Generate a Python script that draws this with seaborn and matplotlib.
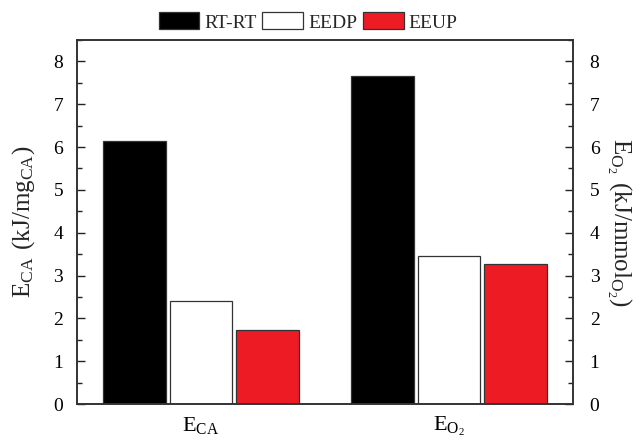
import matplotlib
matplotlib.use("Agg")
import matplotlib.pyplot as plt
import seaborn as sns
import pandas as pd
from matplotlib.ticker import MultipleLocator, FixedLocator
from matplotlib.patches import Patch

categories = [r"$\mathregular{E_{CA}}$", r"$\mathregular{E_{O_2}}$"]
methods = ["RT-RT", "EEDP", "EEUP"]
rtrt = [6.15, 7.67]
eedp = [2.40, 3.46]
eeup = [1.73, 3.28]
colors = ["#000000", "#FFFFFF", "#ED1C24"]

sns.set_theme(style="white")
plt.rcParams["font.family"] = ["Liberation Serif", "DejaVu Serif"]
plt.rcParams["mathtext.fontset"] = "custom"
plt.rcParams["mathtext.rm"] = "Liberation Serif"

rows = []
for m, vals in zip(methods, [rtrt, eedp, eeup]):
    for c, v in zip(categories, vals):
        rows.append({"cat": c, "method": m, "value": v})
df = pd.DataFrame(rows)

fig = plt.figure(figsize=(6.43, 4.40), dpi=100)
ax = fig.add_axes([77/643, 1-404/440, (573-77)/643, (404-40)/440])

sns.barplot(data=df, x="cat", y="value", hue="method", order=categories,
            hue_order=methods, palette=colors, saturation=1, width=0.8, gap=0.05,
            edgecolor="#333333", linewidth=0.9, ax=ax, legend=False)

ax.set_xlim(-0.5, 1.5)
ax.set_ylim(0, 8.5)
ax.set_xlabel("")
ax.set_ylabel(r"$\mathregular{E_{CA}\ (kJ/mg_{CA})}$", fontsize=18, labelpad=12)
ax.yaxis.set_major_locator(MultipleLocator(1))
ax.yaxis.set_minor_locator(MultipleLocator(0.5))
ax.xaxis.set_minor_locator(FixedLocator([0.5]))
ax.tick_params(axis="both", which="both", direction="in", colors="#222222")
ax.tick_params(axis="y", which="major", length=6, width=1, labelsize=14, pad=10, labelcolor="black")
ax.tick_params(axis="y", which="minor", length=3.5, width=1)
ax.tick_params(axis="x", which="major", length=6, width=1, labelsize=16, pad=8, labelcolor="black")
ax.tick_params(axis="x", which="minor", length=3.5, width=1)
for s in ax.spines.values():
    s.set_color("#333333")
    s.set_linewidth(1.2)

ax2 = ax.twinx()
ax2.set_ylim(0, 8.5)
ax2.yaxis.set_major_locator(MultipleLocator(1))
ax2.yaxis.set_minor_locator(MultipleLocator(0.5))
ax2.tick_params(axis="y", which="both", direction="in", colors="#222222")
ax2.tick_params(axis="y", which="major", length=6, width=1, labelsize=14, pad=12, labelcolor="black")
ax2.tick_params(axis="y", which="minor", length=3.5, width=1)
ax2.set_ylabel(r"$\mathregular{E_{O_2}\ (kJ/mmol_{O_2})}$", fontsize=18, rotation=270, labelpad=24)
for s in ax2.spines.values():
    s.set_color("#333333")
    s.set_linewidth(1.2)

handles = [Patch(facecolor=c, edgecolor="#333333", linewidth=0.9) for c in colors]
fig.legend(handles, methods, loc="center", bbox_to_anchor=(308/643, 1-22/440),
           ncol=3, frameon=False, fontsize=14, handlelength=2.1, handleheight=0.95,
           handletextpad=0.25, columnspacing=0.3)

fig.savefig("out.png", dpi=100)
